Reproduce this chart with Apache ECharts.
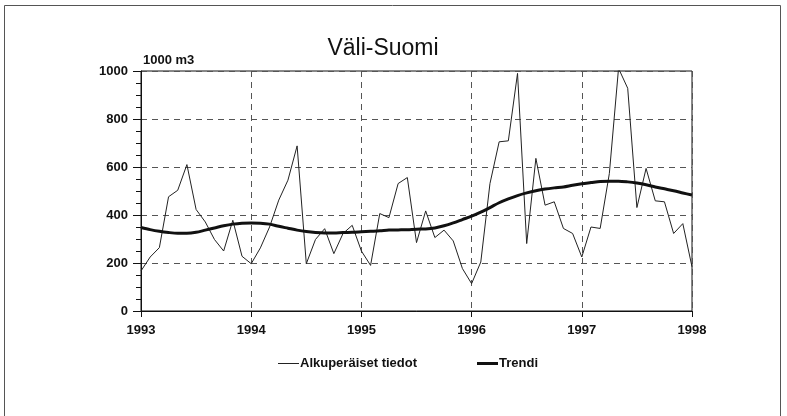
<!DOCTYPE html>
<html><head><meta charset="utf-8">
<script src="https://cdn.jsdelivr.net/npm/echarts@6/dist/echarts.min.js"></script>
<style>html,body{margin:0;padding:0;background:#fff}#c{width:787px;height:416px}</style>
</head><body><div id="c"></div>
<script>
const title = 'Väli-Suomi';
const unitLabel = '1000 m3';
const yearTicks = ['1993','1994','1995','1996','1997','1998'];
const seriesNames = ['Alkuperäiset tiedot', 'Trendi'];
// monthly values Jan 1993 .. Jan 1998
const original = [167,225,264,476,503,610,423,371,298,250,378,228,
  197,263,350,462,545,688,197,298,343,239,323,357,
  250,190,406,389,531,556,285,417,306,337,292,177,
  114,204,531,705,709,990,281,636,441,455,344,323,
  225,350,344,573,1011,928,431,594,459,455,323,364,
  184];
const trend = [348,339,332,327,324,324,328,337,346,355,362,366,
  367,366,362,353,345,337,331,327,325,325,327,328,
  330,332,334,337,338,339,341,342,346,355,367,381,
  395,412,431,451,467,481,492,501,508,513,517,524,
  530,535,540,541,541,538,533,526,517,509,501,492,
  483];

const FONT = '"Liberation Sans Narrow","Arial Narrow","Liberation Sans",sans-serif';
const chart = echarts.init(document.getElementById('c'));
const legendText = {fontFamily: FONT, fontSize: 13, fontWeight: 'bold', color: '#111', padding: [0, 0, 0, -4]};
chart.setOption({
  backgroundColor: '#fff',
  animation: false,
  title: {text: title, left: 378, top: 32, textAlign: 'center',
    textStyle: {fontFamily: FONT, fontSize: 23, fontWeight: 'normal', color: '#111'}},
  graphic: [
    {type: 'polyline', shape: {points: [[4.5, 416], [4.5, 5.5], [780.5, 5.5], [780.5, 416]]},
      style: {fill: 'none', stroke: '#555', lineWidth: 1}},
    {type: 'text', left: 143, top: 54, style: {text: unitLabel, font: 'bold 13px ' + FONT, fill: '#111'}}
  ],
  legend: [
    {left: 273, top: 352, itemWidth: 21, itemHeight: 1, icon: 'rect', textStyle: legendText,
      data: [seriesNames[0]]},
    {left: 472, top: 352, itemWidth: 21, itemHeight: 3, icon: 'rect', textStyle: legendText,
      data: [seriesNames[1]]}
  ],
  grid: {left: 141, right: 95, top: 71, bottom: 105, show: true, borderColor: '#111', borderWidth: 1},
  xAxis: {type: 'value', min: 0, max: 60, interval: 12,
    axisLine: {lineStyle: {color: '#111'}},
    axisTick: {length: 6, lineStyle: {color: '#111'}},
    axisLabel: {fontFamily: FONT, fontSize: 13, fontWeight: 'bold', color: '#111', margin: 13,
      formatter: v => yearTicks[v / 12]},
    splitLine: {show: true, lineStyle: {type: [6, 5], color: '#555'}}},
  yAxis: {type: 'value', min: 0, max: 1000, interval: 200,
    axisLine: {show: true, lineStyle: {color: '#111'}},
    axisTick: {show: true, length: 8, lineStyle: {color: '#111'}},
    minorTick: {show: true, splitNumber: 4, length: 5, lineStyle: {color: '#111'}},
    axisLabel: {fontFamily: FONT, fontSize: 13, fontWeight: 'bold', color: '#111', margin: 13,
      formatter: v => String(v)},
    splitLine: {show: true, lineStyle: {type: [6, 5], color: '#555'}}},
  series: [
    {name: seriesNames[0], type: 'line', symbol: 'none', data: original.map((v, i) => [i, v]),
      lineStyle: {width: 1, color: '#222'}, itemStyle: {color: '#222'}},
    {name: seriesNames[1], type: 'line', symbol: 'none', smooth: 0.3, data: trend.map((v, i) => [i, v]),
      lineStyle: {width: 3, color: '#111'}, itemStyle: {color: '#111'}}
  ]
});
</script></body></html>
